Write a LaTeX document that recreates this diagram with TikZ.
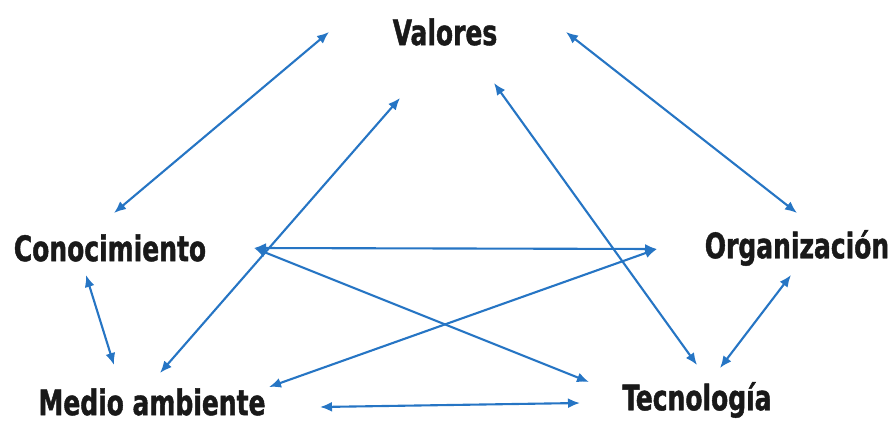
\documentclass[tikz,border=0pt]{standalone}
\usepackage{fontspec}
\setmainfont{DejaVu Sans Condensed}[FakeStretch=0.79,FakeBold=1.2]
\usepackage{xcolor}
\usepackage{tikz}
\usetikzlibrary{arrows.meta}
\definecolor{linkblue}{RGB}{38,117,196}

\begin{document}
\begin{tikzpicture}[
  x=0.03cm, y=-0.03cm,
  font=\bfseries\fontsize{30}{34}\selectfont,
  lbl/.style={inner sep=0pt, text=black!90},
  arr/.style={{Latex[length=3.6mm,width=3mm]}-{Latex[length=3.6mm,width=3mm]}, linkblue, line width=1.8pt}
]
\useasboundingbox (0,0) rectangle (896,424);
% labels
\node[lbl] (val) at (445,32) {Valores};
\node[lbl] (con) at (110,248) {Conocimiento};
\node[lbl] (org) at (797,248) {Organización};
\node[lbl] (med) at (152,402) {Medio ambiente};
\node[lbl] (tec) at (697,400) {Tecnología};
% arrow ends
\coordinate (val-con) at (329,32);
\coordinate (val-org) at (566,32);
\coordinate (val-med) at (400,98);
\coordinate (val-tec) at (494,83);
\coordinate (con-val) at (114,213);
\coordinate (con-x) at (254,248);
\coordinate (con-med) at (86,275);
\coordinate (org-val) at (797,213);
\coordinate (org-x) at (657,249);
\coordinate (org-tec) at (791,275);
\coordinate (med-con) at (114,365);
\coordinate (med-val) at (160,373);
\coordinate (med-org) at (269,387);
\coordinate (med-tec) at (320,407);
\coordinate (tec-val) at (697,365);
\coordinate (tec-con) at (589,382);
\coordinate (tec-med) at (580,403);
\coordinate (tec-org) at (720,368);
% links
\draw[arr] (val-con) -- (con-val);
\draw[arr] (val-org) -- (org-val);
\draw[arr] (val-med) -- (med-val);
\draw[arr] (val-tec) -- (tec-val);
\draw[arr] (con-x) -- (org-x);
\draw[arr] (con-x) -- (tec-con);
\draw[arr] (med-org) -- (org-x);
\draw[arr] (con-med) -- (med-con);
\draw[arr] (med-tec) -- (tec-med);
\draw[arr] (tec-org) -- (org-tec);
\end{tikzpicture}
\end{document}
